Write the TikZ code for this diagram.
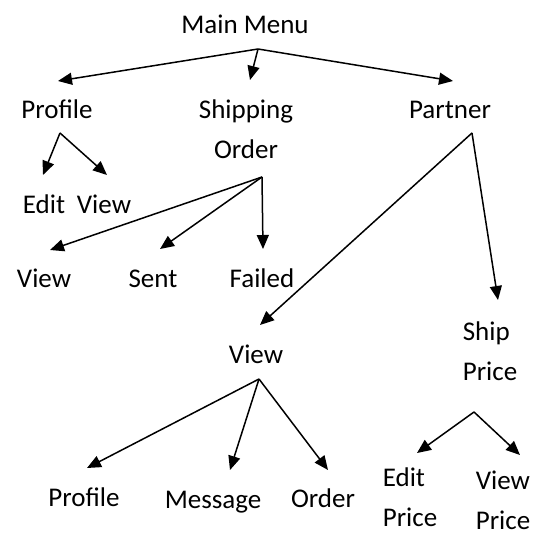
\documentclass[tikz,border=0pt]{standalone}
\usepackage{fontspec}
\setmainfont{Carlito}
\usetikzlibrary{arrows.meta,positioning}

\tikzset{
  lbl/.style={inner sep=0pt,anchor=base,align=left,font=\fontsize{27pt}{40pt}\selectfont},
  arr/.style={line width=1.5pt,-{Triangle[length=14pt,width=12pt]}}
}

\begin{document}
\begin{tikzpicture}[x=1pt,y=-1pt]
  \useasboundingbox (0,0) rectangle (547,538);
  \node[lbl] (main) at (245,33) {Main Menu};
  \node[lbl] (profile) at (57,118) {Profile};
  \node[lbl,align=center] (shipping) at (246,158) {Shipping\\Order};
  \node[lbl] (partner) at (450,118) {Partner};
  \node[lbl] (pedit) at (44,213) {Edit};
  \node[lbl] (pview) at (104,213) {View};
  \node[lbl] (sview) at (44,287) {View};
  \node[lbl] (ssent) at (153,287) {Sent};
  \node[lbl] (sfailed) at (262,287) {Failed};
  \node[lbl] (partview) at (256,363) {View};
  \node[lbl] (shipprice) at (490,380) {Ship\\Price};
  \node[lbl] (vprofile) at (84,506) {Profile};
  \node[lbl] (vmessage) at (213,508) {Message};
  \node[lbl] (vorder) at (323,507) {Order};
  \node[lbl] (editprice) at (410,526) {Edit\\Price};
  \node[lbl] (viewprice) at (503,529) {View\\Price};
  \coordinate (mainbr) at (258,49);
  \coordinate (profbr) at (60,133);
  \coordinate (shipbr) at (262,177);
  \coordinate (partbr) at (472,133);
  \coordinate (viewbr) at (259,379);
  \coordinate (pricebr) at (474,412);
  \draw[arr] (mainbr) -- (58,81);
  \draw[arr] (mainbr) -- (250,80);
  \draw[arr] (mainbr) -- (453,81);
  \draw[arr] (profbr) -- (43,175);
  \draw[arr] (profbr) -- (107,175);
  \draw[arr] (shipbr) -- (50,250);
  \draw[arr] (shipbr) -- (160,249);
  \draw[arr] (shipbr) -- (263,249);
  \draw[arr] (partbr) -- (260,325);
  \draw[arr] (partbr) -- (498,300);
  \draw[arr] (viewbr) -- (87,468);
  \draw[arr] (viewbr) -- (230,470);
  \draw[arr] (viewbr) -- (328,470);
  \draw[arr] (pricebr) -- (417,453);
  \draw[arr] (pricebr) -- (520,455);
\end{tikzpicture}
\end{document}
